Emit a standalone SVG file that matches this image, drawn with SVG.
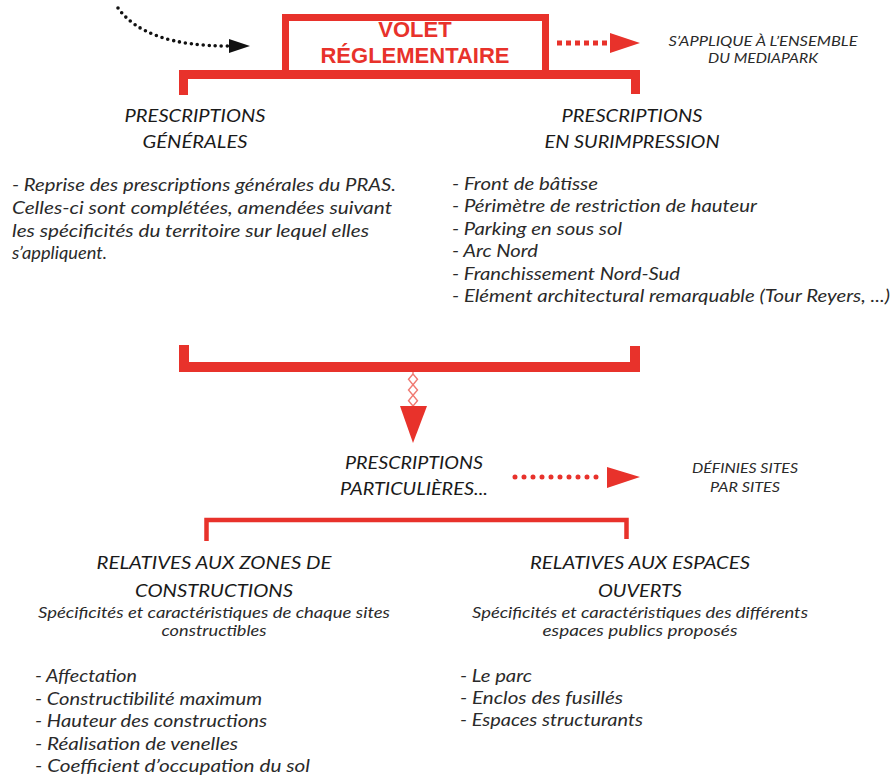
<svg xmlns="http://www.w3.org/2000/svg" width="894" height="779" viewBox="0 0 894 779">
<style>
.t{font-family:Lato,"Noto Sans","Liberation Sans",sans-serif;font-style:italic;fill:#2a2a2a}
.h{font-size:18px;text-anchor:middle;fill:#1a1a1a}
.b{font-size:17.5px}
.s{font-size:15.5px;text-anchor:middle}
.n{font-size:14px;text-anchor:middle}
.red{fill:#e8322b}
.title{font-family:"Liberation Sans",Arial,sans-serif;font-weight:bold;font-size:22px;fill:#e8322b;text-anchor:middle}
</style>
<rect width="894" height="779" fill="#fff"/>
<g id="volet">
<rect x="285.5" y="17.5" width="260" height="56" fill="none" stroke="#e8322b" stroke-width="7"/>
<text class="title" x="415" y="37">VOLET</text>
<text class="title" x="415" y="63">RÉGLEMENTAIRE</text>
</g>
<g id="connectors">
<path d="M179,70 H640 V94 H631 V79 H188 V95 H179 Z" class="red"/>
<path d="M179,345 H189 V362 H630 V346 H640 V372 H179 Z" class="red"/>
<path d="M206.5,541 V520 H626.5 V539" fill="none" stroke="#e8322b" stroke-width="4.5"/>
<path d="M118,8 Q145,46 228,46" fill="none" stroke="#111" stroke-width="3.6" stroke-linecap="round" stroke-dasharray="0 6"/>
<polygon points="229,39 250,46 229,53" fill="#111"/>
<path d="M557,43 H612" fill="none" stroke="#e8322b" stroke-width="5" stroke-dasharray="5 4"/>
<polygon points="610,33 640,43 610,53" class="red"/>
<path d="M515,477 H604" fill="none" stroke="#e8322b" stroke-width="5" stroke-linecap="round" stroke-dasharray="0 9"/>
<polygon points="607,467 640,477 607,488" class="red"/>
<polyline points="413,372 413,374 417.5,379.3 413,384.7 417.5,390 413,395.3 417.5,400.7 413,406" fill="none" stroke="#f07a72" stroke-width="1.4"/>
<polyline points="413,374 408.5,379.3 413,384.7 408.5,390 413,395.3 408.5,400.7 413,406" fill="none" stroke="#f07a72" stroke-width="1.4"/>
<polygon points="400,406 427,406 413,443" class="red"/>
</g>
<g id="note-top">
<text class="t n" x="763" y="46" textLength="189" lengthAdjust="spacingAndGlyphs">S’APPLIQUE À L’ENSEMBLE</text>
<text class="t n" x="763" y="63" textLength="110" lengthAdjust="spacingAndGlyphs">DU MEDIAPARK</text>
</g>
<g id="generales">
<text class="t h" x="195" y="122" textLength="141" lengthAdjust="spacingAndGlyphs">PRESCRIPTIONS</text>
<text class="t h" x="195" y="148" textLength="105" lengthAdjust="spacingAndGlyphs">GÉNÉRALES</text>
<text class="t b" x="12" y="191" textLength="384" lengthAdjust="spacingAndGlyphs">- Reprise des prescriptions générales du PRAS.</text>
<text class="t b" x="12" y="214" textLength="380" lengthAdjust="spacingAndGlyphs">Celles-ci sont complétées, amendées suivant</text>
<text class="t b" x="12" y="237" textLength="357" lengthAdjust="spacingAndGlyphs">les spécificités du territoire sur lequel elles</text>
<text class="t b" x="12" y="259" textLength="95" lengthAdjust="spacingAndGlyphs">s’appliquent.</text>
</g>
<g id="surimpression">
<text class="t h" x="632" y="122" textLength="141" lengthAdjust="spacingAndGlyphs">PRESCRIPTIONS</text>
<text class="t h" x="632" y="148" textLength="175" lengthAdjust="spacingAndGlyphs">EN SURIMPRESSION</text>
<text class="t b" x="452" y="190" textLength="146" lengthAdjust="spacingAndGlyphs">- Front de bâtisse</text>
<text class="t b" x="452" y="212" textLength="305" lengthAdjust="spacingAndGlyphs">- Périmètre de restriction de hauteur</text>
<text class="t b" x="452" y="235" textLength="170" lengthAdjust="spacingAndGlyphs">- Parking en sous sol</text>
<text class="t b" x="452" y="257" textLength="86" lengthAdjust="spacingAndGlyphs">- Arc Nord</text>
<text class="t b" x="452" y="280" textLength="228" lengthAdjust="spacingAndGlyphs">- Franchissement Nord-Sud</text>
<text class="t b" x="452" y="302" textLength="438" lengthAdjust="spacingAndGlyphs">- Elément architectural remarquable (Tour Reyers, ...)</text>
</g>
<g id="particulieres">
<text class="t h" x="414" y="469" textLength="138" lengthAdjust="spacingAndGlyphs">PRESCRIPTIONS</text>
<text class="t h" x="414" y="495" textLength="148" lengthAdjust="spacingAndGlyphs">PARTICULIÈRES...</text>
</g>
<g id="note-sites">
<text class="t n" x="745" y="473" textLength="106" lengthAdjust="spacingAndGlyphs">DÉFINIES SITES</text>
<text class="t n" x="745" y="492" textLength="70" lengthAdjust="spacingAndGlyphs">PAR SITES</text>
</g>
<g id="zones">
<text class="t h" x="214" y="569" textLength="235" lengthAdjust="spacingAndGlyphs">RELATIVES AUX ZONES DE</text>
<text class="t h" x="214" y="597" textLength="158" lengthAdjust="spacingAndGlyphs">CONSTRUCTIONS</text>
<text class="t s" x="214" y="618" textLength="352" lengthAdjust="spacingAndGlyphs">Spécificités et caractéristiques de chaque sites</text>
<text class="t s" x="214" y="636" textLength="105" lengthAdjust="spacingAndGlyphs">constructibles</text>
<text class="t b" x="35" y="682" textLength="102" lengthAdjust="spacingAndGlyphs">- Affectation</text>
<text class="t b" x="35" y="704.5" textLength="227" lengthAdjust="spacingAndGlyphs">- Constructibilité maximum</text>
<text class="t b" x="35" y="727" textLength="232" lengthAdjust="spacingAndGlyphs">- Hauteur des constructions</text>
<text class="t b" x="35" y="749.5" textLength="203" lengthAdjust="spacingAndGlyphs">- Réalisation de venelles</text>
<text class="t b" x="35" y="772" textLength="275" lengthAdjust="spacingAndGlyphs">- Coefficient d’occupation du sol</text>
</g>
<g id="espaces">
<text class="t h" x="640" y="569" textLength="220" lengthAdjust="spacingAndGlyphs">RELATIVES AUX ESPACES</text>
<text class="t h" x="640" y="597" textLength="84" lengthAdjust="spacingAndGlyphs">OUVERTS</text>
<text class="t s" x="640" y="618" textLength="336" lengthAdjust="spacingAndGlyphs">Spécificités et caractéristiques des différents</text>
<text class="t s" x="640" y="636" textLength="195" lengthAdjust="spacingAndGlyphs">espaces publics proposés</text>
<text class="t b" x="460" y="682" textLength="72" lengthAdjust="spacingAndGlyphs">- Le parc</text>
<text class="t b" x="460" y="704" textLength="163" lengthAdjust="spacingAndGlyphs">- Enclos des fusillés</text>
<text class="t b" x="460" y="726" textLength="183" lengthAdjust="spacingAndGlyphs">- Espaces structurants</text>
</g>
</svg>
